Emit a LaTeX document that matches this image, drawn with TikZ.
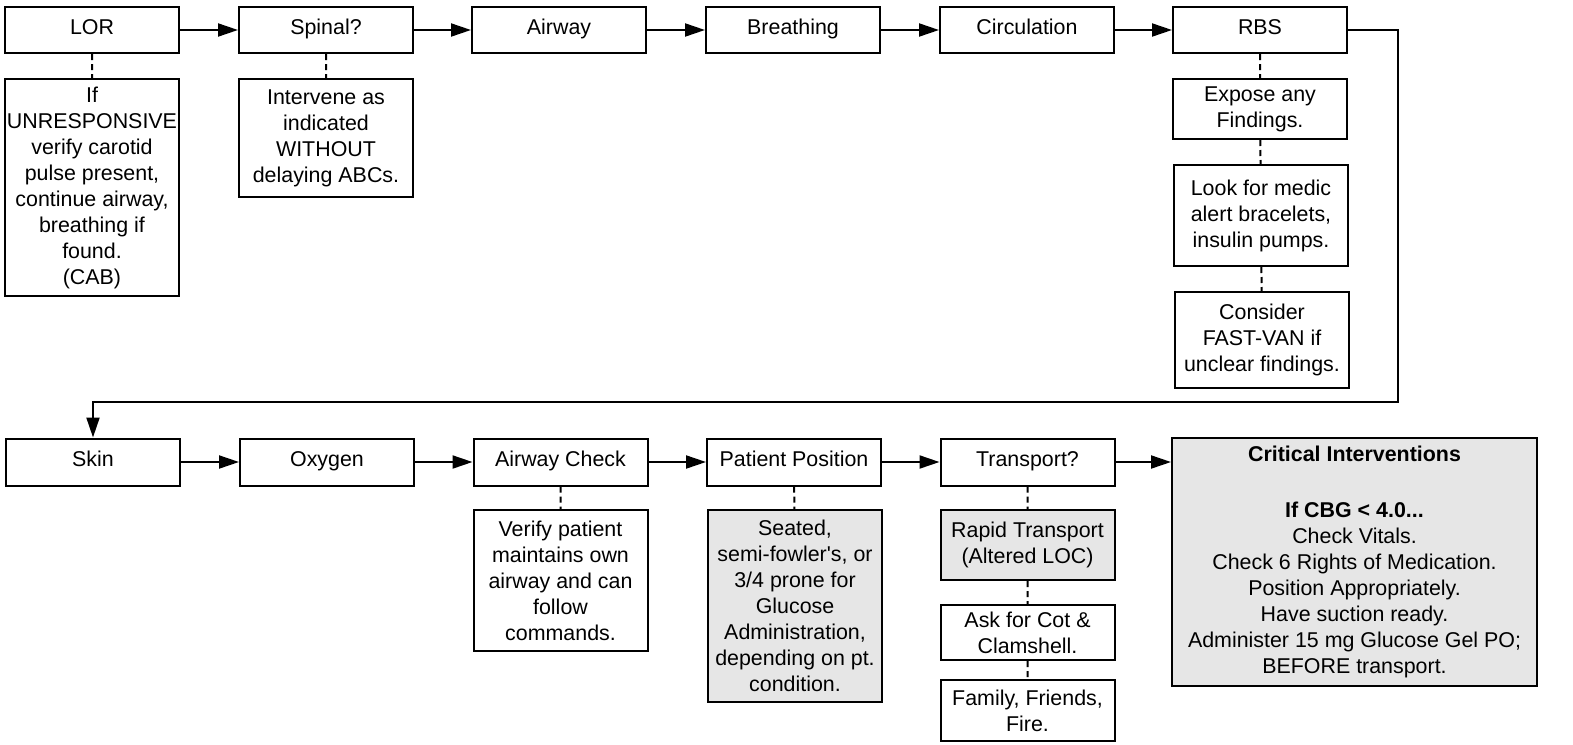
\documentclass[tikz,border=0pt]{standalone}
\usepackage{fontspec}
\setmainfont{Liberation Sans}
\usetikzlibrary{arrows.meta}
\definecolor{boxgray}{HTML}{E6E6E6}

\begin{document}
\begin{tikzpicture}[x=1pt, y=-1pt,
        font=\fontsize{21.4}{26}\selectfont,
        box/.style={draw, line width=2pt, align=center, inner sep=0pt,
            minimum width=174pt, minimum height=46pt},
        stage/.style={box, text height=14pt, text depth=6pt},
        graybox/.style={box, fill=boxgray},
        flow/.style={line width=2pt, -{Triangle[length=20pt, width=13pt]}},
        link/.style={line width=2pt, dash pattern=on 6pt off 4pt}
    ]
        \useasboundingbox (0,0) rectangle (1573,744);

        % first row
        \node[stage] (lor) at (92,30) {LOR};
        \node[stage] (spinal) at (326,30) {Spinal?};
        \node[stage] (airway) at (559,30) {Airway};
        \node[stage] (breathing) at (793,30) {Breathing};
        \node[stage] (circulation) at (1027,30) {Circulation};
        \node[stage] (rbs) at (1260,30) {RBS};

        \node[box, minimum height=217pt] (lornote) at (92,187.5)
            {If\\UNRESPONSIVE\\verify carotid\\pulse present,\\continue airway,\\breathing if\\found.\\(CAB)};
        \node[box, minimum height=118pt] (spinalnote) at (326,138)
            {Intervene as\\indicated\\WITHOUT\\delaying ABCs.};
        \node[box, minimum height=60pt] (expose) at (1260,109)
            {Expose any\\Findings.};
        \node[box, minimum height=101pt] (medic) at (1261,215.5)
            {Look for medic\\alert bracelets,\\insulin pumps.};
        \node[box, minimum height=96pt] (fastvan) at (1262,340)
            {Consider\\FAST-VAN if\\unclear findings.};

        % second row
        \node[stage, minimum height=47pt] (skin) at (93,462) {Skin};
        \node[stage, minimum height=47pt] (oxygen) at (327,462) {Oxygen};
        \node[stage, minimum height=47pt] (check) at (560.5,462) {Airway Check};
        \node[stage, minimum height=47pt] (position) at (794,462) {Patient Position};
        \node[stage, minimum height=47pt] (transport) at (1027.5,462) {Transport?};
        \node[graybox, minimum width=365pt, minimum height=248pt] (critical) at (1354.5,562)
            {\textbf{Critical Interventions}\\[30pt]
             \textbf{If CBG < 4.0...}\\Check Vitals.\\Check 6 Rights of Medication.\\
             Position Appropriately.\\Have suction ready.\\
             Administer 15 mg Glucose Gel PO;\\BEFORE transport.};

        \node[box, minimum height=141pt] (checknote) at (560.5,580.5)
            {Verify patient\\maintains own\\airway and can\\follow\\commands.};
        \node[graybox, minimum height=192pt] (positionnote) at (795,606)
            {Seated,\\semi-fowler\textquotesingle s, or\\3/4 prone for\\Glucose\\Administration,\\depending on pt.\\condition.};
        \node[graybox, minimum height=70pt] (rapid) at (1027.5,545)
            {Rapid Transport\\(Altered LOC)};
        \node[box, minimum height=55pt] (cot) at (1027.5,632.5)
            {Ask for Cot \&\\Clamshell.};
        \node[box, minimum height=61pt] (family) at (1027.5,710.5)
            {Family, Friends,\\Fire.};

        \coordinate (turn) at (1398,401.5);

        \draw[flow] (lor) -- (spinal);
        \draw[flow] (spinal) -- (airway);
        \draw[flow] (airway) -- (breathing);
        \draw[flow] (breathing) -- (circulation);
        \draw[flow] (circulation) -- (rbs);
        \draw[flow] (rbs.east) -| (turn) -| (skin.north);
        \draw[flow] (skin) -- (oxygen);
        \draw[flow] (oxygen) -- (check);
        \draw[flow] (check) -- (position);
        \draw[flow] (position) -- (transport);
        \draw[flow] (transport.east) -- (transport.east -| critical.west);

        \draw[link]
            (lor) -- (lornote)
            (spinal) -- (spinalnote)
            (rbs) -- (expose)
            (expose) -- (medic)
            (medic) -- (fastvan)
            (check) -- (checknote)
            (position) -- (positionnote)
            (transport) -- (rapid)
            (rapid) -- (cot)
            (cot) -- (family);
    \end{tikzpicture}
\end{document}
